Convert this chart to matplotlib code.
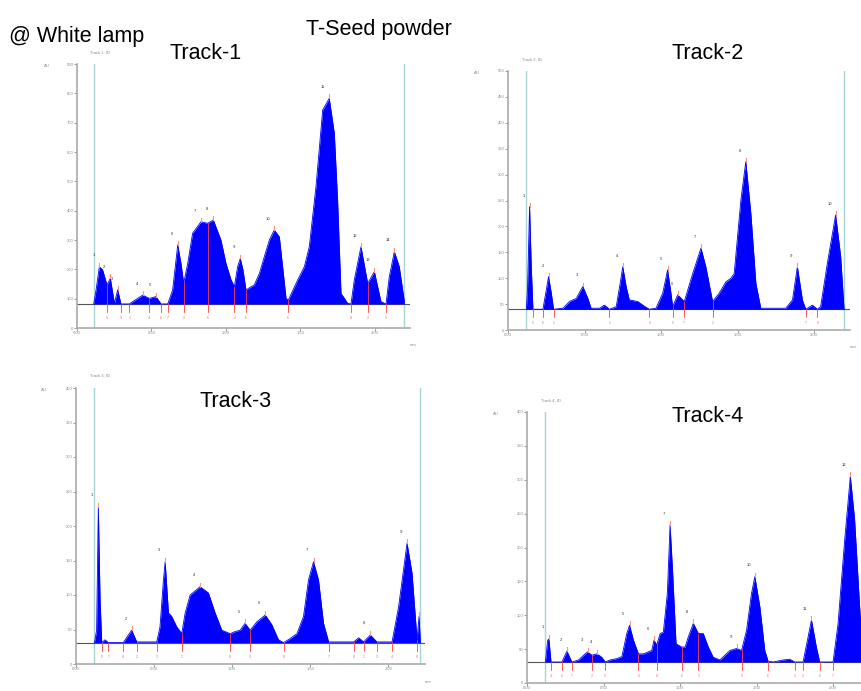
import matplotlib.pyplot as plt
import numpy as np

plt.rcParams['font.family'] = ['Liberation Sans', 'DejaVu Sans']

# densitogram data (x in mm-scale of the scanner, y in AU)
t1_x = [0.112, 0.128, 0.150, 0.172, 0.201, 0.224, 0.251, 0.273, 0.295, 0.351, 0.374, 0.441, 0.485,
        0.530, 0.564, 0.609, 0.642, 0.676, 0.698, 0.716, 0.743, 0.776, 0.832, 0.877, 0.915, 0.966,
        1.000, 1.034, 1.056, 1.078, 1.096, 1.114, 1.134, 1.190, 1.224, 1.257, 1.291, 1.324, 1.358,
        1.380, 1.403, 1.418, 1.481, 1.526, 1.559, 1.604, 1.649, 1.693, 1.727, 1.749, 1.772, 1.817,
        1.839, 1.861, 1.906, 1.951, 1.996, 2.040, 2.074, 2.096, 2.130, 2.163, 2.197]
t1_y = [82, 130, 209, 198, 147, 169, 84, 130, 82, 82, 90, 112, 101,
        107, 82, 82, 130, 283, 220, 152, 220, 323, 362, 357, 368, 300,
        220, 164, 141, 209, 237, 198, 130, 147, 186, 243, 300, 334, 311,
        209, 101, 95, 164, 209, 277, 482, 743, 783, 664, 436, 118, 84,
        82, 164, 277, 152, 192, 90, 82, 175, 260, 209, 90]

t2_x = [0.120, 0.128, 0.141, 0.152, 0.163, 0.228, 0.250, 0.265, 0.283, 0.298, 0.359, 0.402, 0.446,
        0.489, 0.522, 0.543, 0.598, 0.630, 0.663, 0.707, 0.733, 0.750, 0.772, 0.793, 0.848, 0.891,
        0.924, 0.967, 1.011, 1.043, 1.065, 1.076, 1.109, 1.152, 1.207, 1.261, 1.293, 1.337, 1.380,
        1.424, 1.457, 1.478, 1.522, 1.554, 1.587, 1.620, 1.652, 1.815, 1.859, 1.891, 1.924, 1.946,
        1.989, 2.022, 2.043, 2.087, 2.141, 2.174, 2.196]
t2_y = [40, 84, 238, 122, 40, 40, 77, 103, 71, 40, 42, 55, 61,
        84, 61, 42, 42, 48, 40, 45, 90, 122, 84, 58, 55, 46,
        40, 42, 71, 116, 71, 45, 68, 55, 109, 158, 122, 55, 71,
        93, 100, 109, 251, 325, 225, 90, 42, 42, 58, 122, 58, 40,
        48, 40, 45, 129, 222, 142, 40]

t3_x = [0.118, 0.132, 0.143, 0.154, 0.165, 0.186, 0.207, 0.303, 0.335, 0.357, 0.389, 0.517, 0.538,
        0.560, 0.571, 0.592, 0.613, 0.645, 0.677, 0.699, 0.731, 0.795, 0.848, 0.891, 0.934, 0.987,
        1.019, 1.051, 1.083, 1.115, 1.158, 1.212, 1.254, 1.297, 1.329, 1.372, 1.415, 1.457, 1.489,
        1.521, 1.553, 1.585, 1.618, 1.778, 1.810, 1.842, 1.885, 1.927, 2.024, 2.066, 2.120, 2.152,
        2.184, 2.197, 2.205]
t3_y = [31, 49, 228, 93, 31, 35, 31, 31, 42, 49, 32, 32, 54,
        122, 148, 74, 69, 54, 44, 74, 100, 112, 103, 74, 49, 44,
        47, 49, 59, 49, 61, 71, 57, 35, 31, 37, 44, 69, 122,
        148, 122, 59, 32, 32, 38, 32, 42, 32, 32, 83, 175, 132,
        35, 69, 31]

t4_x = [0.120, 0.135, 0.143, 0.157, 0.228, 0.261, 0.293, 0.337, 0.370, 0.396, 0.424, 0.457, 0.489,
        0.511, 0.543, 0.587, 0.620, 0.652, 0.670, 0.696, 0.728, 0.761, 0.793, 0.815, 0.830, 0.848,
        0.870, 0.891, 0.917, 0.935, 0.952, 0.974, 1.011, 1.033, 1.054, 1.087, 1.120, 1.152, 1.185,
        1.217, 1.261, 1.293, 1.326, 1.370, 1.402, 1.435, 1.467, 1.489, 1.522, 1.554, 1.576, 1.609,
        1.674, 1.717, 1.750, 1.804, 1.837, 1.859, 1.891, 1.913, 2.000, 2.033, 2.076, 2.113, 2.141,
        2.174, 2.196]
t4_y = [31, 63, 65, 31, 31, 47, 31, 34, 41, 46, 41, 43, 38,
        31, 34, 36, 39, 73, 85, 63, 43, 43, 46, 48, 63, 56,
        73, 75, 132, 233, 162, 58, 53, 53, 68, 88, 73, 73, 53,
        38, 34, 41, 48, 51, 48, 78, 132, 157, 112, 48, 32, 31,
        34, 35, 31, 31, 68, 93, 53, 31, 31, 88, 211, 305, 241,
        112, 31]

tracks = ['Track-1', 'Track-2', 'Track-3', 'Track-4']
track_ids = ['Track 1, ID', 'Track 2, ID', 'Track 3, ID', 'Track 4, ID']
baselines = [82, 40, 31, 31]
y_max = [900, 500, 400, 400]
y_step = [100, 50, 50, 50]
start_end = [(0.112, 2.197), (0.120, 2.196), (0.118, 2.205), (0.120, 2.196)]
x_ticks = [0.0, 0.5, 1.0, 1.5, 2.0]
x_labels = ['0.00', '0.50', '1.00', '1.50', '2.00']

W, H = 861, 691
fig = plt.figure(figsize=(W / 100, H / 100), dpi=100)

def px_axes(x0, y_top, x1, y_zero):
    return fig.add_axes([x0 / W, 1 - y_zero / H, (x1 - x0) / W, (y_zero - y_top) / H])

# panel boxes in pixels: left, top tick, right end, zero line
boxes = [(77, 64, 410, 328), (508, 71, 850, 330), (76, 388, 425, 664), (527, 412, 869, 683)]
data = [(t1_x, t1_y), (t2_x, t2_y), (t3_x, t3_y), (t4_x, t4_y)]

for k in range(4):
    ax = px_axes(*boxes[k])
    x = np.array(data[k][0])
    y = np.array(data[k][1])
    base = baselines[k]
    ax.set_xlim(0, 2.235)
    ax.set_ylim(0, y_max[k])

    ax.axhline(base, color='#555555', lw=0.8, zorder=1)
    ax.fill_between(x, base, y, color='#0000ff', lw=0, zorder=2)
    ax.plot(x, y, color='#0000ff', lw=0.6, zorder=2)
    for xv in start_end[k]:
        ax.axvline(xv, color='#a8d4d4', lw=1.0, zorder=0)

    # peak numbers above local maxima
    n = 1
    for i in range(1, len(y) - 1):
        if y[i] > y[i - 1] and y[i] >= y[i + 1] and y[i] - base > 8:
            ax.text(x[i] - 0.04, y[i] + y_max[k] * 0.035, str(n), fontsize=3, color='#333333',
                    ha='center', va='bottom')
            ax.plot([x[i], x[i]], [y[i], y[i] + y_max[k] * 0.015], color='#ff9090', lw=0.8)
            n += 1
    # red boundaries at local minima and start/end of each region
    for i in range(1, len(y) - 1):
        low = y[i] < y[i - 1] and y[i] <= y[i + 1] and y[i] - base > 3
        edge = (y[i] - base <= 1) and (y[i - 1] - base > 3 or y[i + 1] - base > 3)
        if low or edge:
            ax.plot([x[i], x[i]], [base - y_max[k] * 0.03, y[i]], color='#ff4040', lw=0.6, zorder=3)
            ax.text(x[i], base - y_max[k] * 0.045, str(i % 9 + 1), fontsize=2.5, color='#ff6060',
                    ha='center', va='top')

    for s in ['top', 'right']:
        ax.spines[s].set_visible(False)
    for s in ['left', 'bottom']:
        ax.spines[s].set_color('#aaaaaa')
        ax.spines[s].set_linewidth(1.2)
    ax.set_yticks(range(0, y_max[k] + 1, y_step[k]))
    ax.set_xticks(x_ticks)
    ax.set_xticklabels(x_labels)
    ax.tick_params(labelsize=3, colors='#888888', length=2, width=0.6, pad=0.5)
    ax.text(-0.1, 1.0, 'AU', transform=ax.transAxes, fontsize=3, color='#888888', va='top')
    if k < 3:
        ax.text(1.0, -0.07, 'mm', transform=ax.transAxes, fontsize=3, color='#888888')
    ax.text(0.04, 1.04, track_ids[k], transform=ax.transAxes, fontsize=3, color='#888888')

def fig_text(x, y, s, size):
    fig.text(x / W, 1 - y / H, s, fontsize=size, ha='left', va='baseline')

fig_text(9, 42, '@ White lamp', 15.5)
fig_text(306, 35, 'T-Seed powder', 15.5)
fig_text(170, 59, 'Track-1', 15.5)
fig_text(672, 59, 'Track-2', 15.5)
fig_text(199, 407, 'Track-3', 15.5)
fig_text(672, 422, 'Track-4', 15.5)

fig.savefig('out.png', dpi=100)
